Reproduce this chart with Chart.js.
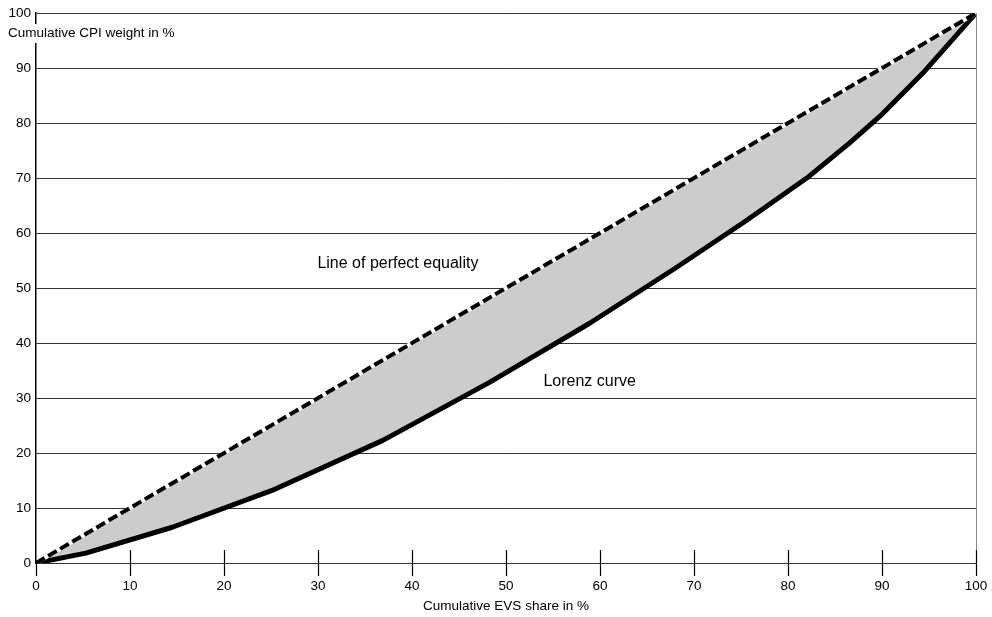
<!DOCTYPE html>
<html>
<head>
<meta charset="utf-8">
<script src="https://cdn.jsdelivr.net/npm/chart.js@4/dist/chart.umd.min.js"></script>
<style>
  html, body { margin: 0; padding: 0; background: #fff; }
  #wrap { width: 992px; height: 617px; }
</style>
</head>
<body>
<div id="wrap"><canvas id="lorenzChart" width="992" height="617"></canvas></div>
<script>
// Lorenz curve (cumulative EVS share vs cumulative CPI weight)
const lorenzX = [0, 5.3, 14.5, 25.4, 36.9, 48.2, 58.9, 68.0, 75.5, 82.0, 86.5, 90.0, 94.3, 100];
const lorenzY = [0, 1.8, 6.5, 13.4, 22.3, 32.8, 43.6, 53.6, 62.2, 70.0, 76.3, 81.6, 89.0, 100];

// Line of perfect equality
const equalityX = [0, 100];
const equalityY = [0, 100];

// Axis ticks
const xTicks = [0, 10, 20, 30, 40, 50, 60, 70, 80, 90, 100];
const yTicks = [0, 10, 20, 30, 40, 50, 60, 70, 80, 90, 100];

// Texts
const yTitle = 'Cumulative CPI weight in %';
const xTitle = 'Cumulative EVS share in %';
const equalityLabel = 'Line of perfect equality';
const lorenzLabel = 'Lorenz curve';

const FONT = '"Liberation Sans", Arial, Helvetica, sans-serif';

function toPoints(xs, ys) {
    return xs.map((x, i) => ({ x: x, y: ys[i] }));
}

// Draws the titles, in-plot labels, right border and the upper half of x ticks
const extrasPlugin = {
    id: 'extras',
    afterDraw(chart) {
        const ctx = chart.ctx;
        const xs = chart.scales.x;
        const ys = chart.scales.y;
        const area = chart.chartArea;
        const y0 = ys.getPixelForValue(0);
        ctx.save();

        // right border of the plot
        ctx.strokeStyle = '#888';
        ctx.lineWidth = 1;
        ctx.beginPath();
        ctx.moveTo(xs.getPixelForValue(100) + 0.5, area.top);
        ctx.lineTo(xs.getPixelForValue(100) + 0.5, area.bottom);
        ctx.stroke();

        // x ticks crossing the axis (upper part)
        ctx.strokeStyle = '#000';
        ctx.lineWidth = 1.2;
        xTicks.forEach(v => {
            if (v === 0) return;
            const px = Math.round(xs.getPixelForValue(v)) + 0.5;
            ctx.beginPath();
            ctx.moveTo(px, y0 - 13);
            ctx.lineTo(px, y0);
            ctx.stroke();
        });

        // y axis title with white background over the axis
        ctx.font = '13.5px ' + FONT;
        ctx.textBaseline = 'middle';
        ctx.textAlign = 'left';
        const w = ctx.measureText(yTitle).width;
        ctx.fillStyle = '#fff';
        ctx.fillRect(area.left - 31, 24, w + 6, 19);
        ctx.fillStyle = '#000';
        ctx.fillText(yTitle, area.left - 28, 33.5);

        // x axis title
        ctx.textAlign = 'center';
        ctx.fillText(xTitle, (area.left + area.right) / 2, 606);

        // in-plot labels
        ctx.font = '16px ' + FONT;
        ctx.fillText(equalityLabel, xs.getPixelForValue(38.5), ys.getPixelForValue(54.5));
        ctx.fillText(lorenzLabel, xs.getPixelForValue(58.9), ys.getPixelForValue(33.0));

        ctx.restore();
    }
};

Chart.defaults.font.family = FONT;
Chart.defaults.font.size = 13.5;
Chart.defaults.color = '#000';

const ctx = document.getElementById('lorenzChart').getContext('2d');
new Chart(ctx, {
    type: 'scatter',
    data: {
        datasets: [
            {
                // dashed black line (drawn on top)
                label: equalityLabel,
                data: toPoints(equalityX, equalityY),
                showLine: true,
                borderColor: '#000',
                borderWidth: 4,
                borderDash: [10, 4],
                pointRadius: 0,
                fill: false
            },
            {
                // white base under the dashes
                label: equalityLabel + ' base',
                data: toPoints(equalityX, equalityY),
                showLine: true,
                borderColor: '#fff',
                borderWidth: 4,
                pointRadius: 0,
                fill: false
            },
            {
                label: lorenzLabel,
                data: toPoints(lorenzX, lorenzY),
                showLine: true,
                borderColor: '#000',
                borderWidth: 5,
                borderJoinStyle: 'round',
                borderCapStyle: 'round',
                tension: 0,
                pointRadius: 0,
                fill: { target: 0 },
                backgroundColor: '#cccccc'
            }
        ]
    },
    options: {
        responsive: false,
        animation: false,
        events: [],
        layout: { padding: { top: 12, right: 16, left: 0, bottom: 0 } },
        plugins: {
            legend: { display: false },
            tooltip: { enabled: false },
            filler: { drawTime: 'beforeDatasetsDraw' }
        },
        scales: {
            x: {
                type: 'linear',
                min: 0,
                max: 100,
                afterFit: s => { s.height = 54; },
                afterBuildTicks: s => { s.ticks = xTicks.map(v => ({ value: v })); },
                grid: {
                    drawOnChartArea: false,
                    drawTicks: true,
                    tickLength: 13,
                    tickColor: '#000',
                    tickWidth: 1.2
                },
                border: { color: '#333', width: 1 },
                ticks: { padding: 2, maxRotation: 0, autoSkip: false, color: '#000' }
            },
            y: {
                type: 'linear',
                min: 0,
                max: 100,
                afterFit: s => { s.width = 36; },
                afterBuildTicks: s => { s.ticks = yTicks.map(v => ({ value: v })); },
                grid: {
                    color: '#333',
                    lineWidth: 1,
                    drawTicks: false
                },
                border: { color: '#000', width: 1.5 },
                ticks: { padding: 5, autoSkip: false, color: '#000' }
            }
        }
    },
    plugins: [extrasPlugin]
});
</script>
</body>
</html>
